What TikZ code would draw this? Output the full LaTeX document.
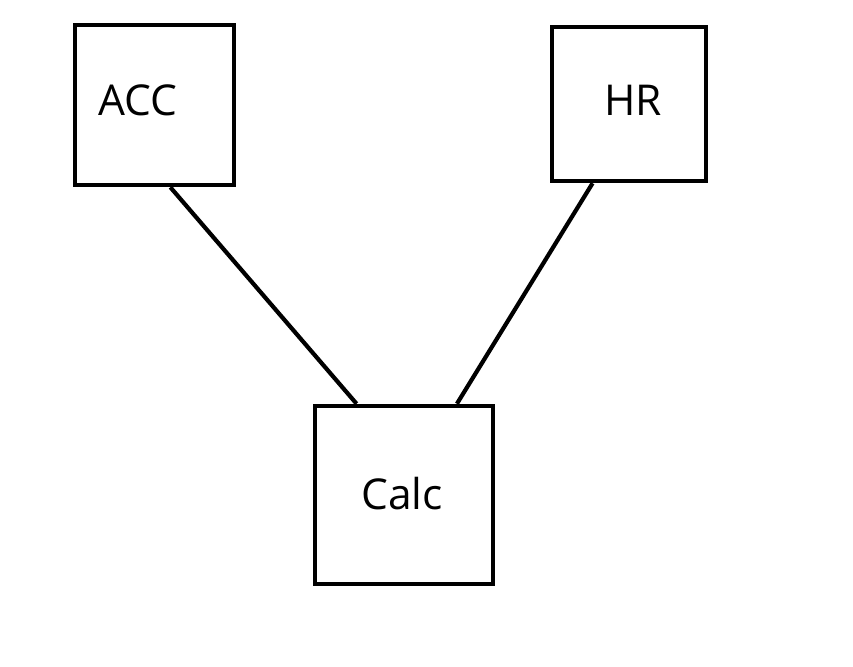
\documentclass[tikz,border=0pt]{standalone}
\usepackage{fontspec}
\setmainfont{Open Sans}
\usetikzlibrary{calc}
\tikzset{
  module/.style={
    draw, rectangle, line width=4.5pt,
    inner sep=0pt, fill=white
  },
  modlabel/.style={font=\fontsize{42.5}{42.5}\selectfont, inner sep=0pt, anchor=base west},
  link/.style={line width=4.2pt}
}
\begin{document}
\begin{tikzpicture}[x=1pt, y=-1pt]
  \useasboundingbox (0,0) rectangle (853,666);

  % modules
  \node[module, minimum width=159pt, minimum height=160pt] (acc)  at (154.5,105) {};
  \node[module, minimum width=154pt, minimum height=154pt] (hr)   at (629,104) {};
  \node[module, minimum width=178pt, minimum height=178pt] (calc) at (404,495) {};

  \node[modlabel] (acctext)  at (98,116)  {ACC};
  \node[modlabel] (hrtext)   at (604,116) {HR};
  \node[modlabel] (calctext) at (361,509) {Calc};

  % links
  \draw[link] ($(acc.south west)!0.597!(acc.south east)$)
    -- ($(calc.north west)!0.24!(calc.north east)$);
  \draw[link] ($(hr.south west)!0.27!(hr.south east)$)
    -- ($(calc.north west)!0.79!(calc.north east)$);
\end{tikzpicture}
\end{document}
